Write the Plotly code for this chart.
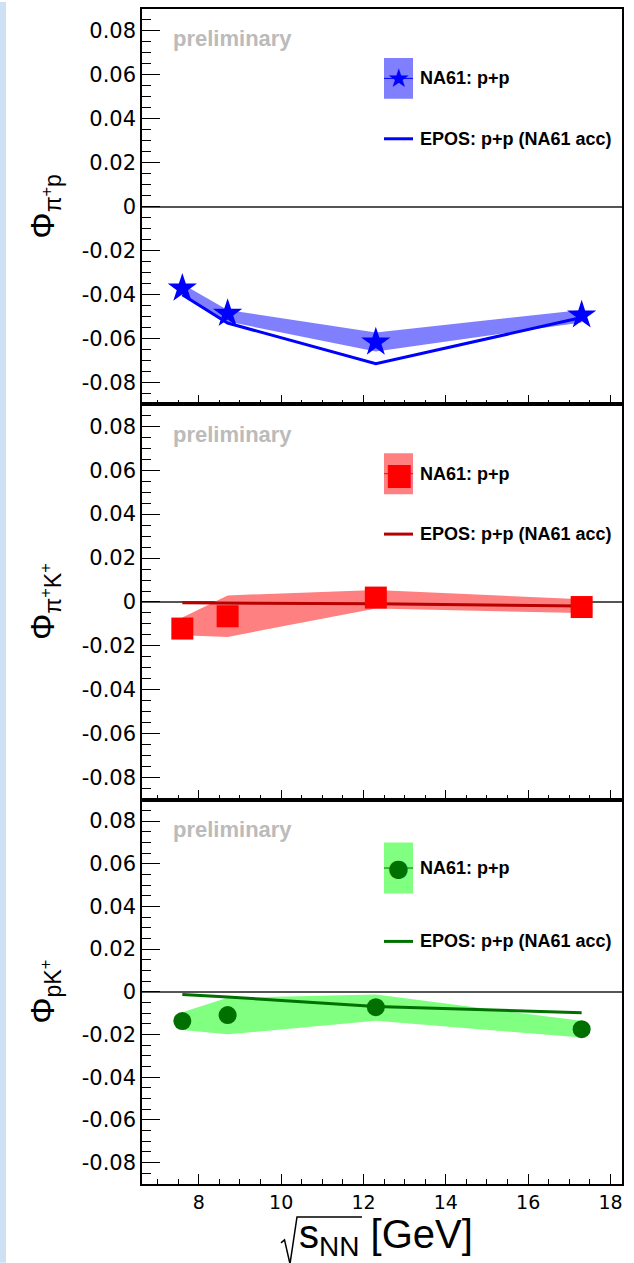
import plotly.graph_objects as go
from plotly.subplots import make_subplots

# collision energy sqrt(s_NN) [GeV]
sqrt_s = [7.6, 8.7, 12.3, 17.3]

# Phi_{pi+ p}
pip_val = [-0.0372, -0.0487, -0.0617, -0.0494]
pip_sys_hi = [-0.0352, -0.0470, -0.0573, -0.0470]
pip_sys_lo = [-0.0398, -0.0523, -0.0660, -0.0527]
pip_epos = [-0.0401, -0.0530, -0.0715, -0.0505]

# Phi_{pi+ K+}
pik_val = [-0.0121, -0.0065, 0.0020, -0.0023]
pik_sys_hi = [-0.0071, 0.0030, 0.0055, 0.0012]
pik_sys_lo = [-0.0151, -0.0159, -0.0030, -0.0050]
pik_epos = [-0.0004, -0.0005, -0.0008, -0.0018]

# Phi_{p K+}
pk_val = [-0.0137, -0.0109, -0.0072, -0.0175]
pk_sys_hi = [-0.0096, -0.0028, -0.0013, -0.0136]
pk_sys_lo = [-0.0179, -0.0199, -0.0135, -0.0214]
pk_epos = [-0.0012, -0.0024, -0.0069, -0.0098]

y_ticks = [-0.08, -0.06, -0.04, -0.02, 0, 0.02, 0.04, 0.06, 0.08]
y_ticktext = ["-0.08", "-0.06", "-0.04", "-0.02", "0", "0.02", "0.04", "0.06", "0.08"]
x_ticks = [8, 10, 12, 14, 16, 18]

panels = [
    dict(val=pip_val, hi=pip_sys_hi, lo=pip_sys_lo, epos=pip_epos,
         band="#8080ff", mcol="#0000ff", lcol="#0000ff", symbol="star", msize=22,
         glyph="★", gsize=26, title="Φ<sub>π<sup>+</sup>p</sub>"),
    dict(val=pik_val, hi=pik_sys_hi, lo=pik_sys_lo, epos=pik_epos,
         band="#ff8080", mcol="#ff0000", lcol="#b80000", symbol="square", msize=22,
         glyph="■", gsize=30, title="Φ<sub>π<sup>+</sup>K<sup>+</sup></sub>"),
    dict(val=pk_val, hi=pk_sys_hi, lo=pk_sys_lo, epos=pk_epos,
         band="#80ff80", mcol="#007000", lcol="#007000", symbol="circle", msize=18,
         glyph="●", gsize=24, title="Φ<sub>pK<sup>+</sup></sub>"),
]

W, H = 634, 1263
L, R, T, B = 142, 12, 7, 79
plot_h = H - T - B
plot_w = W - L - R
# panel boundaries in pixels (top, bottom)
bounds = [(7, 403), (403, 799), (799, 1184)]


def px_x(px):
    return (px - L) / plot_w


def px_y(py):
    return (H - B - py) / plot_h


fig = make_subplots(rows=3, cols=1, shared_xaxes=False, vertical_spacing=0)

for i, p in enumerate(panels):
    row = i + 1
    fig.add_trace(go.Scatter(
        x=sqrt_s + sqrt_s[::-1], y=p["hi"] + p["lo"][::-1],
        fill="toself", fillcolor=p["band"], line=dict(width=0),
        mode="lines", hoverinfo="skip", showlegend=False), row=row, col=1)
    fig.add_trace(go.Scatter(
        x=sqrt_s, y=p["epos"], mode="lines",
        line=dict(color=p["lcol"], width=3), showlegend=False), row=row, col=1)
    fig.add_trace(go.Scatter(
        x=sqrt_s, y=p["val"], mode="markers",
        marker=dict(symbol=p["symbol"], size=p["msize"], color=p["mcol"],
                    line=dict(width=0)),
        showlegend=False), row=row, col=1)

    top, bot = bounds[i]
    yname = "yaxis" if i == 0 else f"yaxis{row}"
    xname = "xaxis" if i == 0 else f"xaxis{row}"
    fig.layout[yname].update(
        domain=[px_y(bot), px_y(top)], range=[-0.09, 0.09],
        tickmode="array", tickvals=y_ticks, ticktext=y_ticktext,
        ticks="inside", ticklen=18, tickwidth=1.3, tickcolor="black",
        minor=dict(tickmode="linear", tick0=0, dtick=0.005, ticks="inside",
                   ticklen=9, tickwidth=1.3, tickcolor="black"),
        showgrid=False, zeroline=True, zerolinecolor="#555555", zerolinewidth=1.5,
        showline=True, linecolor="black", linewidth=1.5, mirror=True,
        tickfont=dict(family="DejaVu Sans", size=21, color="black"),
    )
    fig.layout[xname].update(
        range=[6.62, 18.28], tickmode="array", tickvals=x_ticks,
        ticks="inside", ticklen=10, tickwidth=1.3, tickcolor="black",
        minor=dict(tickmode="linear", tick0=0, dtick=0.5, ticks="inside",
                   ticklen=5, tickwidth=1.3, tickcolor="black"),
        showgrid=False, zeroline=False,
        showline=True, linecolor="black", linewidth=1.5, mirror=True,
        showticklabels=(row == 3),
        tickfont=dict(family="DejaVu Sans", size=19, color="black"),
    )
    if i > 0:
        fig.layout[xname].update(matches="x")

    xr = "x domain" if i == 0 else f"x{row} domain"
    yr = "y domain" if i == 0 else f"y{row} domain"
    ph = bot - top

    def dx(px):
        return (px - L) / plot_w

    def dy(py):
        return (bot - py) / ph

    # "preliminary" label
    fig.add_annotation(text="<b>preliminary</b>", xref=xr, yref=yr,
                       x=dx(171), y=dy(top + 30), xanchor="left", yanchor="middle",
                       showarrow=False,
                       font=dict(family="Liberation Sans", size=22, color="#bbbbbb"))

    # legend: data entry (band box + marker)
    box_top = top + (49 if i < 2 else 43)
    box_bot = top + (90 if i < 2 else 94)
    cy = (box_top + box_bot) / 2
    fig.add_shape(type="rect", xref=xr, yref=yr, x0=dx(384), x1=dx(413),
                  y0=dy(box_bot), y1=dy(box_top), fillcolor=p["band"],
                  line=dict(width=0), layer="above")
    fig.add_shape(type="line", xref=xr, yref=yr, x0=dx(384), x1=dx(413),
                  y0=dy(cy), y1=dy(cy), line=dict(color=p["mcol"], width=1),
                  layer="above")
    fig.add_annotation(text=p["glyph"], xref=xr, yref=yr, x=dx(398.5), y=dy(cy),
                       xanchor="center", yanchor="middle", showarrow=False,
                       font=dict(family="DejaVu Sans", size=p["gsize"], color=p["mcol"]))
    fig.add_annotation(text="<b>NA61: p+p</b>", xref=xr, yref=yr, x=dx(418), y=dy(cy),
                       xanchor="left", yanchor="middle", showarrow=False,
                       font=dict(family="Liberation Sans", size=18, color="black"))
    # legend: model entry
    ly = top + (130 if i < 2 else 142)
    fig.add_shape(type="line", xref=xr, yref=yr, x0=dx(384), x1=dx(413),
                  y0=dy(ly), y1=dy(ly), line=dict(color=p["lcol"], width=3),
                  layer="above")
    fig.add_annotation(text="<b>EPOS: p+p (NA61 acc)</b>", xref=xr, yref=yr,
                       x=dx(418), y=dy(ly), xanchor="left", yanchor="middle",
                       showarrow=False,
                       font=dict(family="Liberation Sans", size=18, color="black"))

    # y-axis title
    fig.add_annotation(text=p["title"], xref=xr, yref=yr, x=dx(45), y=0.5,
                       xanchor="center", yanchor="middle", textangle=-90,
                       showarrow=False,
                       font=dict(family="Liberation Sans", size=33, color="black"))

# x-axis title: radical sign drawn as a path, text to its right
radical = [(281, 1243), (284.5, 1240), (290, 1264), (297, 1217), (362, 1217)]
path = "M " + " L ".join(f"{px_x(a):.5f},{px_y(b):.5f}" for a, b in radical)
fig.add_shape(type="path", xref="paper", yref="paper", path=path,
              line=dict(color="black", width=1.5))
fig.add_annotation(text="s<sub>NN</sub> [GeV]",
                   xref="paper", yref="paper",
                   x=px_x(297), y=px_y(1237),
                   xanchor="left", yanchor="middle", showarrow=False,
                   font=dict(family="Liberation Sans", size=40, color="black"))

# light page strip on the left edge
fig.add_shape(type="rect", xref="paper", yref="paper",
              x0=px_x(0), x1=px_x(6), y0=px_y(H), y1=px_y(0),
              fillcolor="#cde0f4", line=dict(width=0), layer="below")

fig.update_layout(
    width=W, height=H, autosize=False,
    margin=dict(l=L, r=R, t=T, b=B),
    paper_bgcolor="white", plot_bgcolor="white",
    showlegend=False,
)

fig.write_html("out.html")
